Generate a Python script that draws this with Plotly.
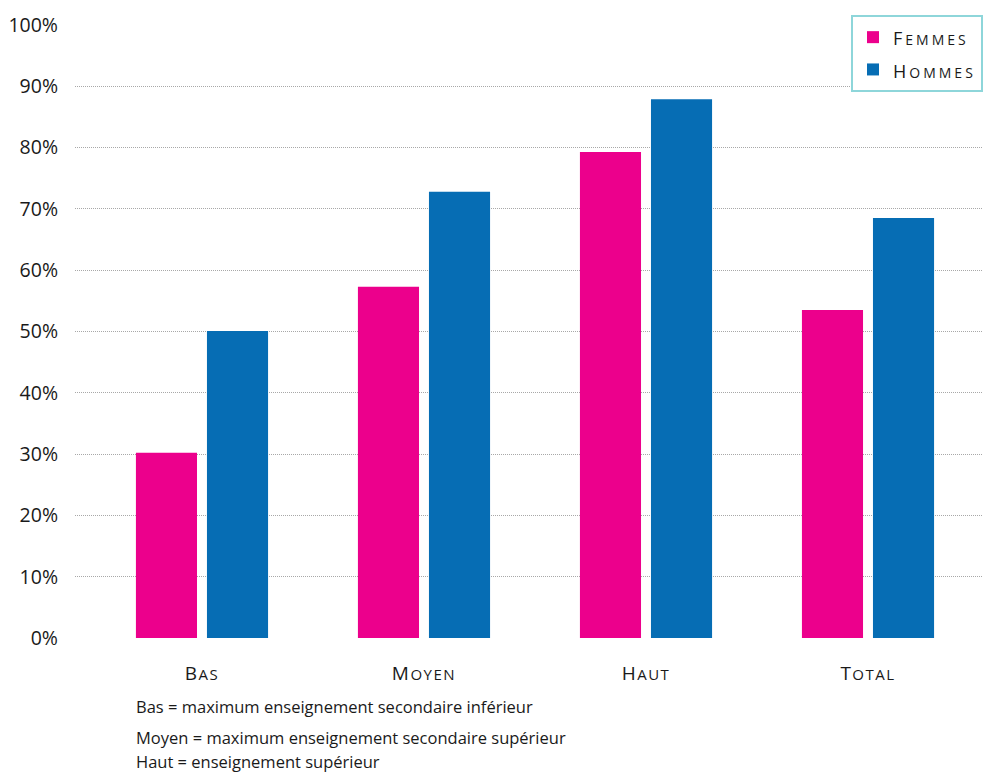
import plotly.graph_objects as go

# Niveaux d'éducation et taux (%) par sexe
categories = ["Bas", "Moyen", "Haut", "Total"]
femmes = [30.2, 57.3, 79.3, 53.5]
hommes = [50.1, 72.8, 87.9, 68.5]
notes = [
    "Bas = maximum enseignement secondaire inférieur",
    "Moyen = maximum enseignement secondaire supérieur",
    "Haut = enseignement supérieur",
]

FONT = "'Open Sans', Lato, sans-serif"
TEXT = "#1A1A1A"
PINK = "#EC008C"
BLUE = "#066DB4"


def small_caps(word, big=17, small=13, spacing=1.5):
    """Render a word in letter-spaced small capitals using span styles."""
    return (f"<span style='font-size:{big}px;letter-spacing:{spacing}px'>{word[0].upper()}</span>"
            f"<span style='font-size:{small}px;letter-spacing:{spacing}px'>{word[1:].upper()}</span>")


fig = go.Figure()
fig.add_trace(go.Bar(x=categories, y=femmes, name=small_caps("Femmes", 18, 14, 3),
                     legendgroup="f",
                     marker=dict(color=PINK, line=dict(width=0))))
fig.add_trace(go.Bar(x=categories, y=hommes, name=small_caps("Hommes", 18, 14, 3),
                     legendgroup="h",
                     marker=dict(color=BLUE, line=dict(width=0))))

W, H = 983, 775
ML, MR, MT, MB = 75, 0, 25, 137
plot_w = W - ML - MR
plot_h = H - MT - MB

annotations = []
for txt, ypx in zip(notes, [706, 737, 761]):
    annotations.append(dict(
        text=txt, xref="paper", yref="paper",
        x=(134 - ML) / plot_w, y=(H - MB - ypx) / plot_h,
        xanchor="left", yanchor="middle", showarrow=False,
        font=dict(family=FONT, size=16.5, color=TEXT),
    ))

fig.update_layout(
    width=W, height=H,
    margin=dict(l=ML, r=MR, t=MT, b=MB, autoexpand=False),
    paper_bgcolor="white", plot_bgcolor="white",
    font=dict(family=FONT, color=TEXT),
    barmode="group", bargap=0.36, bargroupgap=0.14,
    showlegend=True,
    legend=dict(
        x=1.0, y=1 + 10 / plot_h, xanchor="right", yanchor="top",
        bgcolor="white", bordercolor="#8ED6DA", borderwidth=2,
        font=dict(family=FONT, size=21, color=TEXT),
        traceorder="grouped", tracegroupgap=2,
    ),
    xaxis=dict(
        type="category",
        range=[-0.572, 3.518],
        tickmode="array", tickvals=categories,
        ticktext=[small_caps(c, 19, 15, 1.5) for c in categories],
        tickfont=dict(family=FONT, size=19, color=TEXT),
        showgrid=False, zeroline=False, showline=False,
        ticks="", ticklabelstandoff=22,
    ),
    yaxis=dict(
        range=[0, 100], dtick=10, ticksuffix="%",
        tickfont=dict(family=FONT, size=19.5, color=TEXT),
        showgrid=True, gridcolor="#A8A8A8", gridwidth=1, griddash="1px,1px",
        zeroline=False, showline=False, ticks="", ticklabelstandoff=16,
    ),
    annotations=annotations,
)

fig.write_html("out.html")
